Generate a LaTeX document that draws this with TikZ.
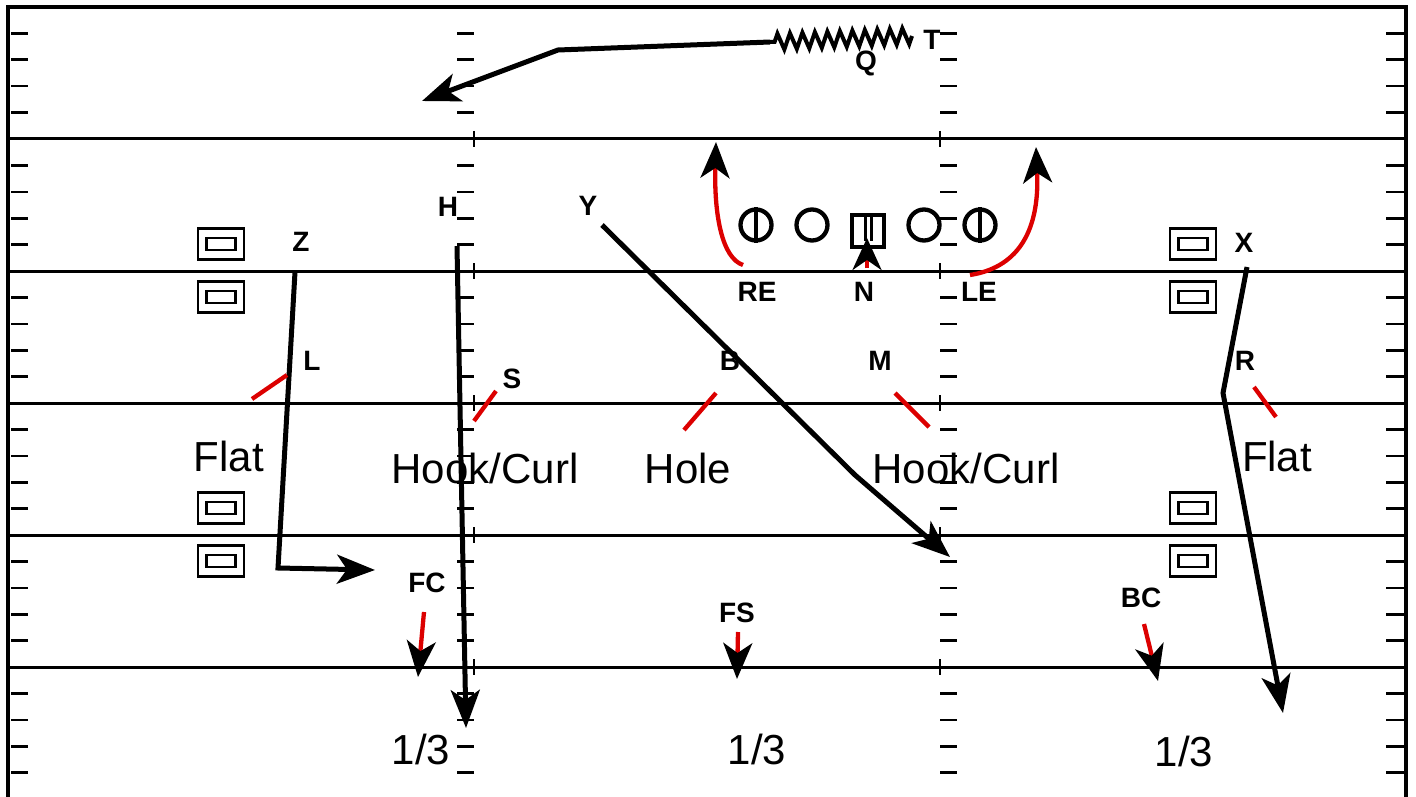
\documentclass[tikz,border=0pt]{standalone}
\usepackage{fontspec}
\setmainfont{Liberation Sans}
\usetikzlibrary{arrows.meta,decorations.pathmorphing}
\definecolor{dred}{RGB}{220,0,0}
\begin{document}
\begin{tikzpicture}[x=1pt,y=-1pt,
  field/.style={line width=3pt},
  tickln/.style={line width=2.6pt},
  bigtip/.style={-{Stealth[length=38pt,width=29pt,inset=10pt]}},
  route/.style={line width=5pt, bigtip},
  defl/.style={line width=4.3pt, dred},
  defarrow/.style={line width=4.3pt, dred, -{Stealth[length=36pt,width=29pt,inset=10pt,black]}},
  lbl/.style={font=\fontsize{28}{32}\selectfont\bfseries, inner sep=0pt},
  zone/.style={font=\fontsize{42}{48}\selectfont, inner sep=0pt},
  olc/.style={draw, circle, line width=4.3pt, minimum size=31pt, inner sep=0pt},
  boxo/.style={draw, line width=2.6pt, minimum width=46pt, minimum height=31pt, inner sep=0pt},
  boxi/.style={draw, line width=2.6pt, minimum width=29pt, minimum height=12pt, inner sep=0pt}
]
\useasboundingbox (0,0) rectangle (1416,797);
% frame and yard lines
\draw[line width=3.5pt] (8,830) -- (8,7) -- (1406,7) -- (1406,830);
\foreach \yy in {139,271,403,535,667} {
  \draw[field] (8,\yy) -- (1406,\yy);
  \draw[tickln] (474,\yy-8) -- (474,\yy+8);
  \draw[tickln] (940,\yy-8) -- (940,\yy+8);
}
% side ticks and hash marks
\foreach \s in {0,...,5} {
  \foreach \k in {1,...,4} {
    \pgfmathsetmacro{\ty}{7+132*\s+26.4*\k}
    \draw[tickln] (11,\ty) -- (28,\ty);
    \draw[tickln] (1386,\ty) -- (1404,\ty);
    \draw[tickln] (457,\ty) -- (474,\ty);
    \draw[tickln] (940,\ty) -- (957,\ty);
  }
}
% offensive line
\node[olc] (lt) at (756,225) {};
\node[olc] (lg) at (812,225) {};
\node[draw, line width=4.3pt, minimum size=32pt, inner sep=0pt] (ctr) at (868,231) {};
\node[olc] (rg) at (924,225) {};
\node[olc] (rt) at (980,225) {};
\draw[line width=4.3pt] (lt.north) -- (lt.south);
\draw[line width=4.3pt] (rt.north) -- (rt.south);
\draw[line width=3pt] (865,214) -- (865,241);
\draw[line width=3pt] (871,214) -- (871,241);
% formation boxes
\foreach \nm/\bx/\by in {a/221/244, b/221/297, c/221/508, d/221/561, e/1193/244, f/1193/297, g/1193/508, h/1193/561} {
  \node[boxo] (bo\nm) at (\bx,\by) {};
  \node[boxi] (bi\nm) at (\bx,\by) {};
}
% labels
\node[lbl] (Q) at (866,63) {Q};
\node[lbl] (T) at (932,40) {T};
\node[lbl] (H) at (448,207) {H};
\node[lbl] (Y) at (588,206) {Y};
\node[lbl] (Z) at (301,242) {Z};
\node[lbl] (X) at (1244,243) {X};
\node[lbl] (RE) at (757,292) {RE};
\node[lbl] (N) at (864,292) {N};
\node[lbl] (LE) at (979,292) {LE};
\node[lbl] (L) at (312,361) {L};
\node[lbl] (S) at (512,379) {S};
\node[lbl] (B) at (730,361) {B};
\node[lbl] (M) at (880,361) {M};
\node[lbl] (R) at (1245,361) {R};
\node[lbl] (FC) at (427,583) {FC};
\node[lbl] (FS) at (737,613) {FS};
\node[lbl] (BC) at (1141,598) {BC};
% zone labels
\node[zone] (fl1) at (229,456) {Flat};
\node[zone] (hc1) at (485,468) {Hook/Curl};
\node[zone] (hole) at (688,468) {Hole};
\node[zone] (hc2) at (966,468) {Hook/Curl};
\node[zone] (fl2) at (1277,456) {Flat};
\node[zone] (th1) at (421,749) {1/3};
\node[zone] (th2) at (757,749) {1/3};
\node[zone] (th3) at (1184,751) {1/3};
% QB drop and throw
\coordinate (qz1) at (912,36);
\coordinate (qz2) at (770,42);
\coordinate (qm) at (558,50);
\coordinate (qe) at (422,101);
\draw[line width=4pt, decorate, decoration={zigzag, segment length=12.5pt, amplitude=8pt}] (qz1) -- (qz2);
\draw[route, line join=round] (qz2) -- (qm) -- (qe);
% receiver routes
\coordinate (z0) at (295,272); \coordinate (z1) at (278,568); \coordinate (z2) at (375,570);
\draw[route] (z0) -- (z1) -- (z2);
\coordinate (h0) at (457,246); \coordinate (h1) at (466,728);
\draw[route] (h0) -- (h1);
\coordinate (y0) at (602,225); \coordinate (y1) at (855,475); \coordinate (y2) at (950,557);
\draw[route] (y0) -- (y1) -- (y2);
\coordinate (x0) at (1247,267); \coordinate (x1) at (1223,393); \coordinate (x2) at (1283,713);
\draw[route] (x0) -- (x1) -- (x2);
% ends and nose
\coordinate (re0) at (743,265); \coordinate (re1) at (716,142);
\draw[defarrow] (re0) .. controls (722,258) and (714,215) .. (re1);
\coordinate (le0) at (970,275); \coordinate (le1) at (1036,147);
\draw[defarrow] (le0) .. controls (1015,268) and (1040,235) .. (le1);
\coordinate (n0) at (867,268); \coordinate (n1) at (867,238);
\draw[defarrow, -{Stealth[length=32pt,width=29pt,inset=10pt,black]}] (n0) -- (n1);
% linebackers / safeties
\coordinate (l0) at (252,399); \coordinate (l1) at (287,375);
\draw[defl] (l0) -- (l1);
\coordinate (s0) at (474,421); \coordinate (s1) at (496,391);
\draw[defl] (s0) -- (s1);
\coordinate (b0) at (684,430); \coordinate (b1) at (716,393);
\draw[defl] (b0) -- (b1);
\coordinate (m0) at (895,393); \coordinate (m1) at (929,427);
\draw[defl] (m0) -- (m1);
\coordinate (r0) at (1254,387); \coordinate (r1) at (1276,417);
\draw[defl] (r0) -- (r1);
\coordinate (fc0) at (424,612); \coordinate (fc1) at (418,677);
\draw[defarrow] (fc0) -- (fc1);
\coordinate (fs0) at (738,632); \coordinate (fs1) at (737,679);
\draw[defarrow] (fs0) -- (fs1);
\coordinate (bc0) at (1144,624); \coordinate (bc1) at (1158,681);
\draw[defarrow] (bc0) -- (bc1);
\end{tikzpicture}
\end{document}
